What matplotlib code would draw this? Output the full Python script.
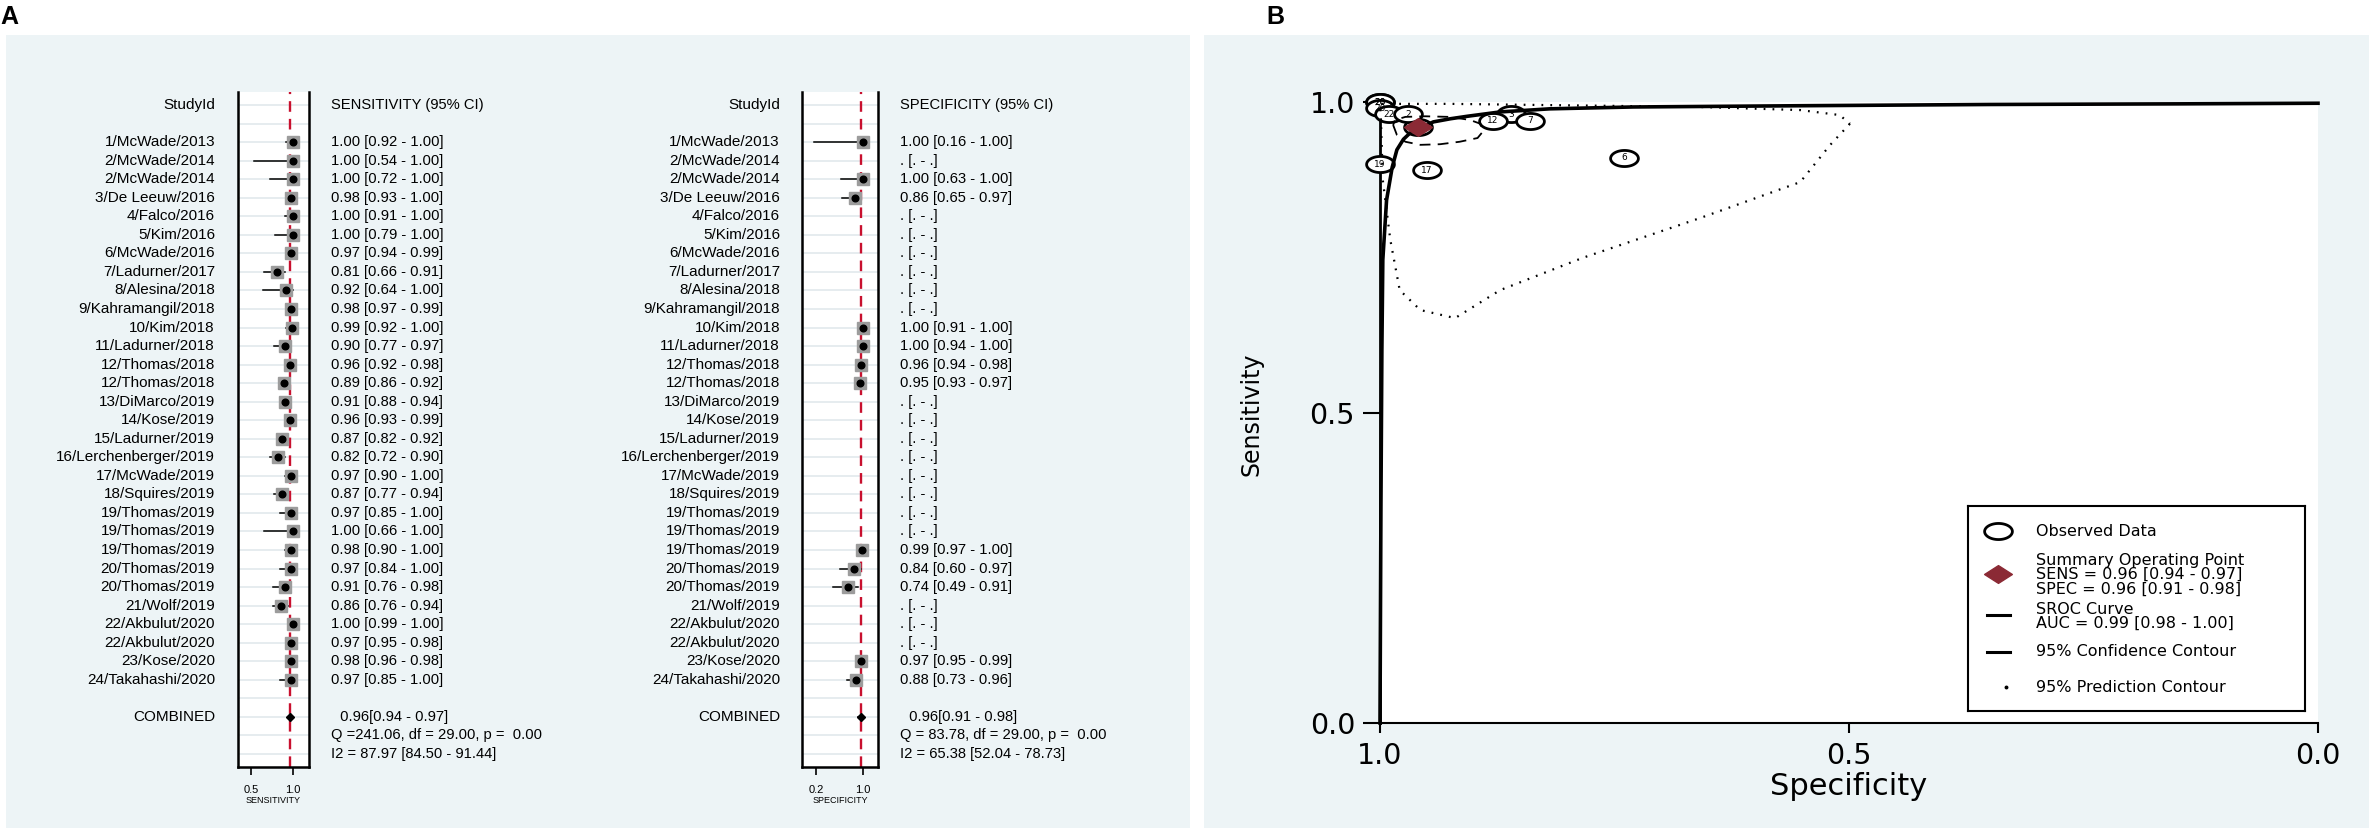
import numpy as np
import matplotlib
matplotlib.use("Agg")
import matplotlib.pyplot as plt
import matplotlib.transforms as mtransforms
from matplotlib.patches import Rectangle
from matplotlib.path import Path

plt.rcParams['font.family'] = ['Liberation Sans', 'DejaVu Sans']

# ---------------- data ----------------
studies = ["1/McWade/2013", "2/McWade/2014", "2/McWade/2014", "3/De Leeuw/2016",
           "4/Falco/2016", "5/Kim/2016", "6/McWade/2016", "7/Ladurner/2017",
           "8/Alesina/2018", "9/Kahramangil/2018", "10/Kim/2018", "11/Ladurner/2018",
           "12/Thomas/2018", "12/Thomas/2018", "13/DiMarco/2019", "14/Kose/2019",
           "15/Ladurner/2019", "16/Lerchenberger/2019", "17/McWade/2019", "18/Squires/2019",
           "19/Thomas/2019", "19/Thomas/2019", "19/Thomas/2019", "20/Thomas/2019",
           "20/Thomas/2019", "21/Wolf/2019", "22/Akbulut/2020", "22/Akbulut/2020",
           "23/Kose/2020", "24/Takahashi/2020"]

sens = [1.00, 1.00, 1.00, 0.98, 1.00, 1.00, 0.97, 0.81, 0.92, 0.98, 0.99, 0.90, 0.96, 0.89, 0.91,
        0.96, 0.87, 0.82, 0.97, 0.87, 0.97, 1.00, 0.98, 0.97, 0.91, 0.86, 1.00, 0.97, 0.98, 0.97]
sens_lo = [0.92, 0.54, 0.72, 0.93, 0.91, 0.79, 0.94, 0.66, 0.64, 0.97, 0.92, 0.77, 0.92, 0.86, 0.88,
           0.93, 0.82, 0.72, 0.90, 0.77, 0.85, 0.66, 0.90, 0.84, 0.76, 0.76, 0.99, 0.95, 0.96, 0.85]
sens_hi = [1.00, 1.00, 1.00, 1.00, 1.00, 1.00, 0.99, 0.91, 1.00, 0.99, 1.00, 0.97, 0.98, 0.92, 0.94,
           0.99, 0.92, 0.90, 1.00, 0.94, 1.00, 1.00, 1.00, 1.00, 0.98, 0.94, 1.00, 0.98, 0.98, 1.00]

nan = np.nan
spec = [1.00, nan, 1.00, 0.86, nan, nan, nan, nan, nan, nan, 1.00, 1.00, 0.96, 0.95, nan,
        nan, nan, nan, nan, nan, nan, nan, 0.99, 0.84, 0.74, nan, nan, nan, 0.97, 0.88]
spec_lo = [0.16, nan, 0.63, 0.65, nan, nan, nan, nan, nan, nan, 0.91, 0.94, 0.94, 0.93, nan,
           nan, nan, nan, nan, nan, nan, nan, 0.97, 0.60, 0.49, nan, nan, nan, 0.95, 0.73]
spec_hi = [1.00, nan, 1.00, 0.97, nan, nan, nan, nan, nan, nan, 1.00, 1.00, 0.98, 0.97, nan,
           nan, nan, nan, nan, nan, nan, nan, 1.00, 0.97, 0.91, nan, nan, nan, 0.99, 0.96]

sens_combined = [0.96, 0.94, 0.97]
spec_combined = [0.96, 0.91, 0.98]
sens_het = ["Q =241.06, df = 29.00, p =  0.00", "I2 = 87.97 [84.50 - 91.44]"]
spec_het = ["Q = 83.78, df = 29.00, p =  0.00", "I2 = 65.38 [52.04 - 78.73]"]
sens_ticks = [0.5, 1.0]
sens_ticklabels = ["0.5", "1.0"]
spec_ticks = [0.2, 1.0]
spec_ticklabels = ["0.2", "1.0"]

# SROC panel
obs_labels = ["20", "20", "3", "20", "19", "16", "17", "22", "7", "6", "2", "12"]
sroc_spec = [1.000, 0.999, 0.998, 0.997, 0.993, 0.987, 0.982, 0.975, 0.968, 0.955,
             0.943, 0.925, 0.907, 0.872, 0.819, 0.730, 0.552, 0.350, 0.150, 0.000]
sroc_sens = [0.000, 0.350, 0.600, 0.746, 0.842, 0.895, 0.923, 0.940, 0.950, 0.960,
             0.968, 0.973, 0.977, 0.984, 0.989, 0.992, 0.994, 0.996, 0.997, 0.998]
conf_spec = [0.986, 0.982, 0.973, 0.957, 0.936, 0.915, 0.896, 0.890, 0.893, 0.904,
             0.925, 0.952, 0.973, 0.984, 0.986]
conf_sens = [0.963, 0.947, 0.936, 0.931, 0.932, 0.936, 0.942, 0.953, 0.965, 0.971,
             0.976, 0.977, 0.976, 0.971, 0.963]
pred_spec = [0.499, 0.520, 0.552, 0.659, 0.784, 0.872, 0.920, 0.957, 0.979, 0.989,
             0.997, 0.999, 1.000, 0.925, 0.819, 0.659, 0.552, 0.510, 0.499]
pred_sens = [0.965, 0.931, 0.871, 0.813, 0.749, 0.697, 0.652, 0.665, 0.697, 0.778,
             0.874, 0.971, 0.997, 0.997, 0.995, 0.992, 0.987, 0.979, 0.965]
summary_point = [0.96, 0.96]  # (spec, sens)
sroc_ticks = [1.0, 0.5, 0.0]
sroc_ticklabels = ["1.0", "0.5", "0.0"]

legend_lines = {
    "obs": "Observed Data",
    "sum": ["Summary Operating Point", "SENS = 0.96 [0.94 - 0.97]", "SPEC = 0.96 [0.91 - 0.98]"],
    "sroc": ["SROC Curve", "AUC = 0.99 [0.98 - 1.00]"],
    "conf": "95% Confidence Contour",
    "pred": "95% Prediction Contour",
}

# ---------------- figure ----------------
W, H = 2369, 831
fig = plt.figure(figsize=(W / 100, H / 100), dpi=100)
BG = '#edf4f6'


def px_axes(x0, y0, x1, y1, **kw):
    return fig.add_axes([x0 / W, 1 - y1 / H, (x1 - x0) / W, (y1 - y0) / H], **kw)


# background panels drawn in a full-figure axes placed behind everything
bg = fig.add_axes([0, 0, 1, 1], zorder=-10)
bg.set_xlim(0, W)
bg.set_ylim(H, 0)
bg.axis('off')
bg.add_patch(Rectangle((6, 35), 1190 - 6, 828 - 35, facecolor=BG, edgecolor='none'))
bg.add_patch(Rectangle((1204, 35), W - 1204, 828 - 35, facecolor=BG, edgecolor='none'))

fig.text(0 / W, 1 - 17 / H, "A", fontsize=18, fontweight='bold', ha='left', va='center')
fig.text(1266 / W, 1 - 17 / H, "B", fontsize=18, fontweight='bold', ha='left', va='center')

FS = 11
VFS = 10.6


def fmt_ci(e, l, h):
    if np.isnan(e):
        return ". [. - .]"
    return f"{e:.2f} [{l:.2f} - {h:.2f}]"


def forest(x0, x1, label_x, text_x, xlim, ticks, ticklabels, est, lo, hi,
           comb, het, header, xlabel):
    ax = px_axes(x0, 92, x1, 767)
    ax.set_xlim(*xlim)
    ax.set_ylim(35.7, -0.7)
    ax.set_facecolor('white')
    for r in range(0, 36):
        ax.axhline(r, color='#e4ebee', lw=1.3, zorder=0)
    ax.axvline(comb[0], color='#c8102e', lw=1.7, ls=(0, (4.5, 3)), zorder=1)
    rows = np.arange(len(studies)) + 2
    trans = mtransforms.blended_transform_factory(fig.transFigure, ax.transData)
    for r, name, e, l, h in zip(rows, studies, est, lo, hi):
        ax.text(label_x / W, r, name, transform=trans, ha='right', va='center', fontsize=FS)
        ax.text(text_x / W, r, fmt_ci(e, l, h), transform=trans, ha='left', va='center',
                fontsize=VFS)
        if np.isnan(e):
            continue
        ax.plot([l, h], [r, r], color='black', lw=1.1, zorder=2)
        ax.plot(e, r, marker='s', ms=8.8, mfc='#9c9c9c', mec='#9c9c9c', zorder=3)
        ax.plot(e, r, marker='o', ms=4.8, color='black', zorder=4)
    # header
    ax.text(label_x / W, 0, "StudyId", transform=trans, ha='right', va='center', fontsize=FS)
    ax.text(text_x / W, 0, header, transform=trans, ha='left', va='center', fontsize=VFS)
    # combined
    crow = len(studies) + 3
    ax.plot([comb[1], comb[2]], [crow, crow], color='black', lw=1.1, zorder=2)
    ax.plot(comb[0], crow, marker='D', ms=4, color='black', zorder=4)
    ax.text(label_x / W, crow, "COMBINED", transform=trans, ha='right', va='center', fontsize=FS)
    ax.text((text_x + 5) / W, crow, f" {comb[0]:.2f}[{comb[1]:.2f} - {comb[2]:.2f}]",
            transform=trans, ha='left', va='center', fontsize=VFS)
    ax.text(text_x / W, crow + 1, het[0], transform=trans, ha='left', va='center', fontsize=VFS)
    ax.text(text_x / W, crow + 2, het[1], transform=trans, ha='left', va='center', fontsize=VFS)
    # axes styling
    ax.spines['top'].set_visible(False)
    for s in ['left', 'right', 'bottom']:
        ax.spines[s].set_linewidth(1.8)
    ax.set_yticks([])
    ax.set_xticks(ticks)
    ax.set_xticklabels(ticklabels)
    ax.tick_params(axis='x', length=6, width=1.2, pad=7, labelsize=8)
    ax.set_xlabel(xlabel, fontsize=6.5, labelpad=1)
    return ax


forest(238, 309, 215, 331, (0.345, 1.19), sens_ticks, sens_ticklabels,
       sens, sens_lo, sens_hi, sens_combined, sens_het, "SENSITIVITY (95% CI)", "SENSITIVITY")
forest(802, 878, 780, 900, (-0.038, 1.255), spec_ticks, spec_ticklabels,
       spec, spec_lo, spec_hi, spec_combined, spec_het, "SPECIFICITY (95% CI)", "SPECIFICITY")

# ---------------- SROC panel ----------------
SF = 'DejaVu Sans'
ax = px_axes(1380, 102, 2318, 723)
ax.set_facecolor('white')
ax.set_xlim(1, 0)
ax.set_ylim(0, 1)
ax.spines['top'].set_visible(False)
ax.spines['right'].set_visible(False)
ax.spines['left'].set_linewidth(2.0)
ax.spines['bottom'].set_linewidth(1.5)
ax.set_xticks(sroc_ticks)
ax.set_xticklabels(sroc_ticklabels, family=SF)
ax.set_yticks(sroc_ticks)
ax.set_yticklabels(sroc_ticklabels, family=SF)
ax.tick_params(axis='x', length=7, width=1.5, pad=7, labelsize=20.5)
ax.tick_params(axis='y', length=12, width=1.5, pad=6, labelsize=20.5)
fig.text(1251 / W, 1 - 414 / H, "Sensitivity", rotation=90, ha='center', va='center',
         fontsize=17, family=SF)
fig.text(1849 / W, 1 - 772 / H, "Specificity", ha='center', va='top', fontsize=22, family=SF)

t = np.linspace(0, 2 * np.pi, 64)
ell_marker = Path(np.column_stack([np.cos(t), 0.58 * np.sin(t)]), closed=True)
diamond = Path([(-1, 0), (0, 0.64), (1, 0), (0, -0.64), (-1, 0)], closed=True)

obs_spec = [s for s in spec if not np.isnan(s)]
obs_sens = [se for se, s in zip(sens, spec) if not np.isnan(s)]
for xs, ys, lab in zip(obs_spec, obs_sens, obs_labels):
    ax.plot(xs, ys, marker=ell_marker, ms=20, mfc='white', mec='black', mew=2.0,
            zorder=3, clip_on=False)
    ax.text(xs, ys, lab, ha='center', va='center', fontsize=6.5, family=SF, zorder=4,
            clip_on=False)

ax.plot(pred_spec, pred_sens, color='black', lw=1.6, ls=(0, (0.8, 3.2)), zorder=5,
        clip_on=False)
ax.plot(conf_spec, conf_sens, color='black', lw=1.3, ls=(0, (6, 4)), zorder=5)
ax.plot(sroc_spec, sroc_sens, color='black', lw=2.6, zorder=6, clip_on=False)
ax.plot(summary_point[0], summary_point[1], marker=diamond, ms=20, color='#8b2a35',
        zorder=7)

# legend (manual, in pixel units)
lax = px_axes(1968, 506, 2305, 711)
lax.set_xlim(0, 337)
lax.set_ylim(205, 0)
lax.set_xticks([])
lax.set_yticks([])
lax.set_facecolor('white')
for s in lax.spines.values():
    s.set_linewidth(1.5)
LF = 11.5
lax.plot(30, 25, marker=ell_marker, ms=20, mfc='white', mec='black', mew=2.0)
lax.text(68, 26, legend_lines["obs"], va='center', fontsize=LF, family=SF)
lax.plot(30, 68, marker=diamond, ms=20, color='#8b2a35')
for i, s in enumerate(legend_lines["sum"]):
    lax.text(68, 54 + 14.5 * i, s, va='center', fontsize=LF, family=SF)
lax.plot([19, 42], [109, 109], color='black', lw=2.2)
for i, s in enumerate(legend_lines["sroc"]):
    lax.text(68, 103 + 14.5 * i, s, va='center', fontsize=LF, family=SF)
lax.plot([19, 42], [146, 146], color='black', lw=2.2)
lax.text(68, 146, legend_lines["conf"], va='center', fontsize=LF, family=SF)
lax.plot(38, 181, marker='o', ms=1.8, color='black')
lax.text(68, 182, legend_lines["pred"], va='center', fontsize=LF, family=SF)

fig.savefig("out.png", dpi=100, facecolor='white')
